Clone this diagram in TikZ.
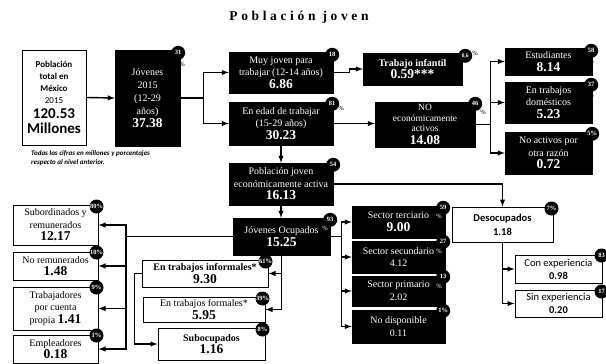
\documentclass[tikz,border=0pt]{standalone}
\usepackage{fontspec}
\setmainfont{Liberation Serif}
\newfontfamily\calib{Carlito}
\usetikzlibrary{arrows}
\tikzset{
  blk/.style={draw=black, fill=black, text=white, align=center, inner sep=0.5pt, font=\fontsize{10}{12.5}\selectfont},
  wht/.style={draw=black, line width=1pt, fill=white, align=center, inner sep=0.5pt, font=\fontsize{10}{12.5}\selectfont},
  badge/.style={circle, fill=black, text=white, inner sep=0pt, minimum size=14, font=\bfseries\fontsize{6.5}{6.5}\selectfont},
  pct/.style={inner sep=0pt, font=\fontsize{6.5}{6.5}\selectfont},
  arr/.style={-latex, line width=1.4pt},
}
\newcommand{\cifra}[1]{{\bfseries\fontsize{13.5}{14}\selectfont #1}}
\begin{document}
\begin{tikzpicture}[x=1pt,y=-1pt]
\useasboundingbox (0,0) rectangle (606,364);
\node (title) at (299,17) {\bfseries\addfontfeature{LetterSpace=27}\fontsize{13.5}{15}\selectfont Población joven};

% first level
\node[wht, minimum width=64, minimum height=95, font=\calib\bfseries\fontsize{9}{12}\selectfont] (total) at (54,97.5) {Población\\total en\\México\\{\mdseries 2015}\\[3pt]{\fontsize{15}{15}\selectfont 120.53}\\[3pt]{\fontsize{15}{15}\selectfont Millones}};
\node[anchor=north west, align=left, inner sep=0pt, font=\calib\bfseries\itshape\fontsize{7}{9}\selectfont] (nota) at (31,150) {Todas las cifras en millones y porcentajes\\respecto al nivel anterior.};
\node[blk, minimum width=65, minimum height=96, font=\fontsize{10}{13}\selectfont] (jov) at (147.5,98) {Jóvenes\\2015\\(12-29\\años)\\\cifra{37.38}};
\node[blk, minimum width=104, minimum height=41] (muy) at (281,72.5) {Muy joven para\\trabajar (12-14 años)\\\cifra{6.86}};
\node[blk, minimum width=104, minimum height=43] (edad) at (281,123.5) {En edad de trabajar\\(15-29 años)\\\cifra{30.23}};
\node[blk, minimum width=99, minimum height=32, font=\bfseries\fontsize{10}{12}\selectfont] (infantil) at (412.5,69) {Trabajo infantil\\\cifra{0.59***}};
\node[blk, minimum width=100, minimum height=45, font=\fontsize{9.5}{10.5}\selectfont] (noea) at (425,124.5) {NO\\económicamente\\activos\\[2.5pt]\cifra{14.08}};
\node[blk, minimum width=87, minimum height=27] (est) at (548.5,61.5) {Estudiantes\\\cifra{8.14}};
\node[blk, minimum width=87, minimum height=41] (dom) at (548.5,102.5) {En trabajos\\domésticos\\\cifra{5.23}};
\node[blk, minimum width=87, minimum height=42] (otra) at (548.5,153) {No activos por\\otra razón\\\cifra{0.72}};
\node[blk, minimum width=104, minimum height=42] (pea) at (281,184) {Población joven\\económicamente activa\\\cifra{16.13}};

% ocupados
\node[blk, minimum width=97, minimum height=37] (ocu) at (281.5,236.5) {Jóvenes Ocupados\\\cifra{15.25}};
\node[blk, minimum width=93, minimum height=32] (ter) at (398.5,222) {Sector terciario\\\cifra{9.00}};
\node[blk, minimum width=93, minimum height=32] (sec) at (398.5,257) {Sector secundario\\4.12};
\node[blk, minimum width=93, minimum height=30] (pri) at (398.5,291) {Sector primario\\2.02};
\node[blk, minimum width=93, minimum height=33] (nod) at (398.5,326.5) {No disponible\\0.11};
\node[wht, minimum width=85, minimum height=40] (sub) at (55.5,225) {Subordinados y\\remunerados\\\cifra{12.17}};
\node[wht, minimum width=85, minimum height=28] (norem) at (55.5,266) {No remunerados\\\cifra{1.48}};
\node[wht, minimum width=85, minimum height=43] (cta) at (55.5,308.5) {Trabajadores\\por cuenta\\propia \cifra{1.41}};
\node[wht, minimum width=85, minimum height=28] (emp) at (55.5,349) {Empleadores\\\cifra{0.18}};
\node[wht, minimum width=126, minimum height=27] (inf) at (205,273.5) {\textbf{En trabajos informales*}\\\cifra{9.30}};
\node[wht, minimum width=122, minimum height=25] (form) at (204,309.5) {En trabajos formales*\\\cifra{5.95}};
\node[wht, minimum width=107, minimum height=32] (subo) at (211.5,344) {\textbf{Subocupados}\\\cifra{1.16}};

% desocupados
\node[wht, minimum width=101, minimum height=35, font=\calib\bfseries\fontsize{10.5}{14}\selectfont] (deso) at (502.5,224.5) {Desocupados\\1.18};
\node[wht, minimum width=87, minimum height=28, font=\calib\fontsize{10.5}{13}\selectfont] (con) at (558.5,269) {Con experiencia\\\textbf{0.98}};
\node[wht, minimum width=87, minimum height=27, font=\calib\fontsize{10.5}{13}\selectfont] (sin) at (558.5,303.5) {Sin experiencia\\\textbf{0.20}};

% connectors
\draw[arr] (total.east) -- (jov.west);
\draw[arr] (jov.east) -- ++(23,0) |- (muy.west);
\draw[arr] (jov.east) -- ++(23,0) |- (edad.west);
\draw[arr] (muy.east) -- ++(16,0) |- (infantil.west);
\draw[arr] (edad.east) -- (edad.east -| noea.west);
\draw[arr] (noea.east) -- ++(15,0) |- (est.west);
\draw[arr] (noea.east) -- ++(15,0) |- (dom.west);
\draw[arr] (noea.east) -- ++(15,0) |- (otra.west);
\draw[arr] (edad.south) -- (pea.north);
\draw[arr] (pea.east) -| (deso.north);
\draw[arr] (pea.south) -- (pea.south |- ocu.north);
\draw[arr] (ocu.east) -- ++(11,0) |- (ter.west);
\draw[arr] (ocu.east) -- ++(11,0) |- (sec.west);
\draw[arr] (ocu.east) -- ++(11,0) |- (pri.west);
\draw[arr] (ocu.east) -- ++(11,0) |- (nod.west);
\draw[arr] (ocu.west) -- ++(-107,0) |- (sub.east);
\draw[arr] (ocu.west) -- ++(-107,0) |- (norem.east);
\draw[arr] (ocu.west) -- ++(-107,0) |- (cta.east);
\draw[arr] (ocu.west) -- ++(-107,0) |- (emp.east);
\draw[arr] (ocu.south) |- (inf.east);
\draw[arr] (ocu.south) |- (form.east);
\draw[arr] (inf.west) -- ++(-7,0) |- (subo.west);
\draw[arr] (deso.south) |- (con.west);
\draw[arr] (deso.south) |- (sin.west);

% percentages
\node[badge] (pjov) at ([shift={(-2,3)}]jov.north east) {31};
\node[pct] at ([shift={(2,15)}]jov.north east) {\%};
\node[badge] (pmuy) at ([shift={(-1,3)}]muy.north east) {18};
\node[pct] at ([shift={(-3,14)}]muy.north east) {\%};
\node[badge] (pedad) at ([shift={(-1,2)}]edad.north east) {81};
\node[pct] at ([shift={(8,7)}]edad.north east) {\%};
\node[badge, font=\bfseries\fontsize{5.5}{5.5}\selectfont] (pinfantil) at ([shift={(3,3)}]infantil.north east) {8,6};
\node[pct] at ([shift={(13,1)}]infantil.north east) {\%};
\node[badge] (pnoea) at ([shift={(0,2)}]noea.north east) {46};
\node[pct] at ([shift={(8,11)}]noea.north east) {\%};
\node[badge] (pest) at ([shift={(-1,3)}]est.north east) {58};
\node[pct] at ([shift={(-1,14)}]est.north east) {\%};
\node[badge] (pdom) at ([shift={(-1,3)}]dom.north east) {37};
\node[pct] at ([shift={(-1,14)}]dom.north east) {\%};
\node[badge] (potra) at ([shift={(0,2)}]otra.north east) {5\%};
\node[badge] (ppea) at ([shift={(0,2)}]pea.north east) {54};
\node[pct] at ([shift={(-6,12)}]pea.north east) {\%};
\node[badge] (pocu) at ([shift={(0,2)}]ocu.north east) {93};
\node[pct, text=white] at ([shift={(-5,11)}]ocu.north east) {\%};
\node[badge] (pter) at ([shift={(-2,2)}]ter.north east) {59};
\node[pct, text=white] at ([shift={(-6,11)}]ter.north east) {\%};
\node[badge] (psec) at ([shift={(-2,1)}]sec.north east) {27};
\node[pct, text=white] at ([shift={(-6,11)}]sec.north east) {\%};
\node[badge] (ppri) at ([shift={(-2,1)}]pri.north east) {13};
\node[pct, text=white] at ([shift={(-6,11)}]pri.north east) {\%};
\node[badge] (pnod) at ([shift={(-2,1)}]nod.north east) {1\%};
\node[badge] (pdeso) at ([shift={(-2,2)}]deso.north east) {7\%};
\node[badge] (pcon) at ([shift={(-1,1)}]con.north east) {83};
\node[badge] (psin) at ([shift={(-1,2)}]sin.north east) {17};
\node[badge] (psub) at ([shift={(-2,2)}]sub.north east) {80\%};
\node[badge] (pnorem) at ([shift={(-2,1)}]norem.north east) {10\%};
\node[badge] (pcta) at ([shift={(-2,1)}]cta.north east) {9\%};
\node[badge] (pemp) at ([shift={(-2,1)}]emp.north east) {1\%};
\node[badge] (pinf) at ([shift={(-3,2)}]inf.north east) {61\%};
\node[badge] (pform) at ([shift={(-3,2)}]form.north east) {39\%};
\node[badge] (psubo) at ([shift={(-3,2)}]subo.north east) {8\%};
\end{tikzpicture}
\end{document}
